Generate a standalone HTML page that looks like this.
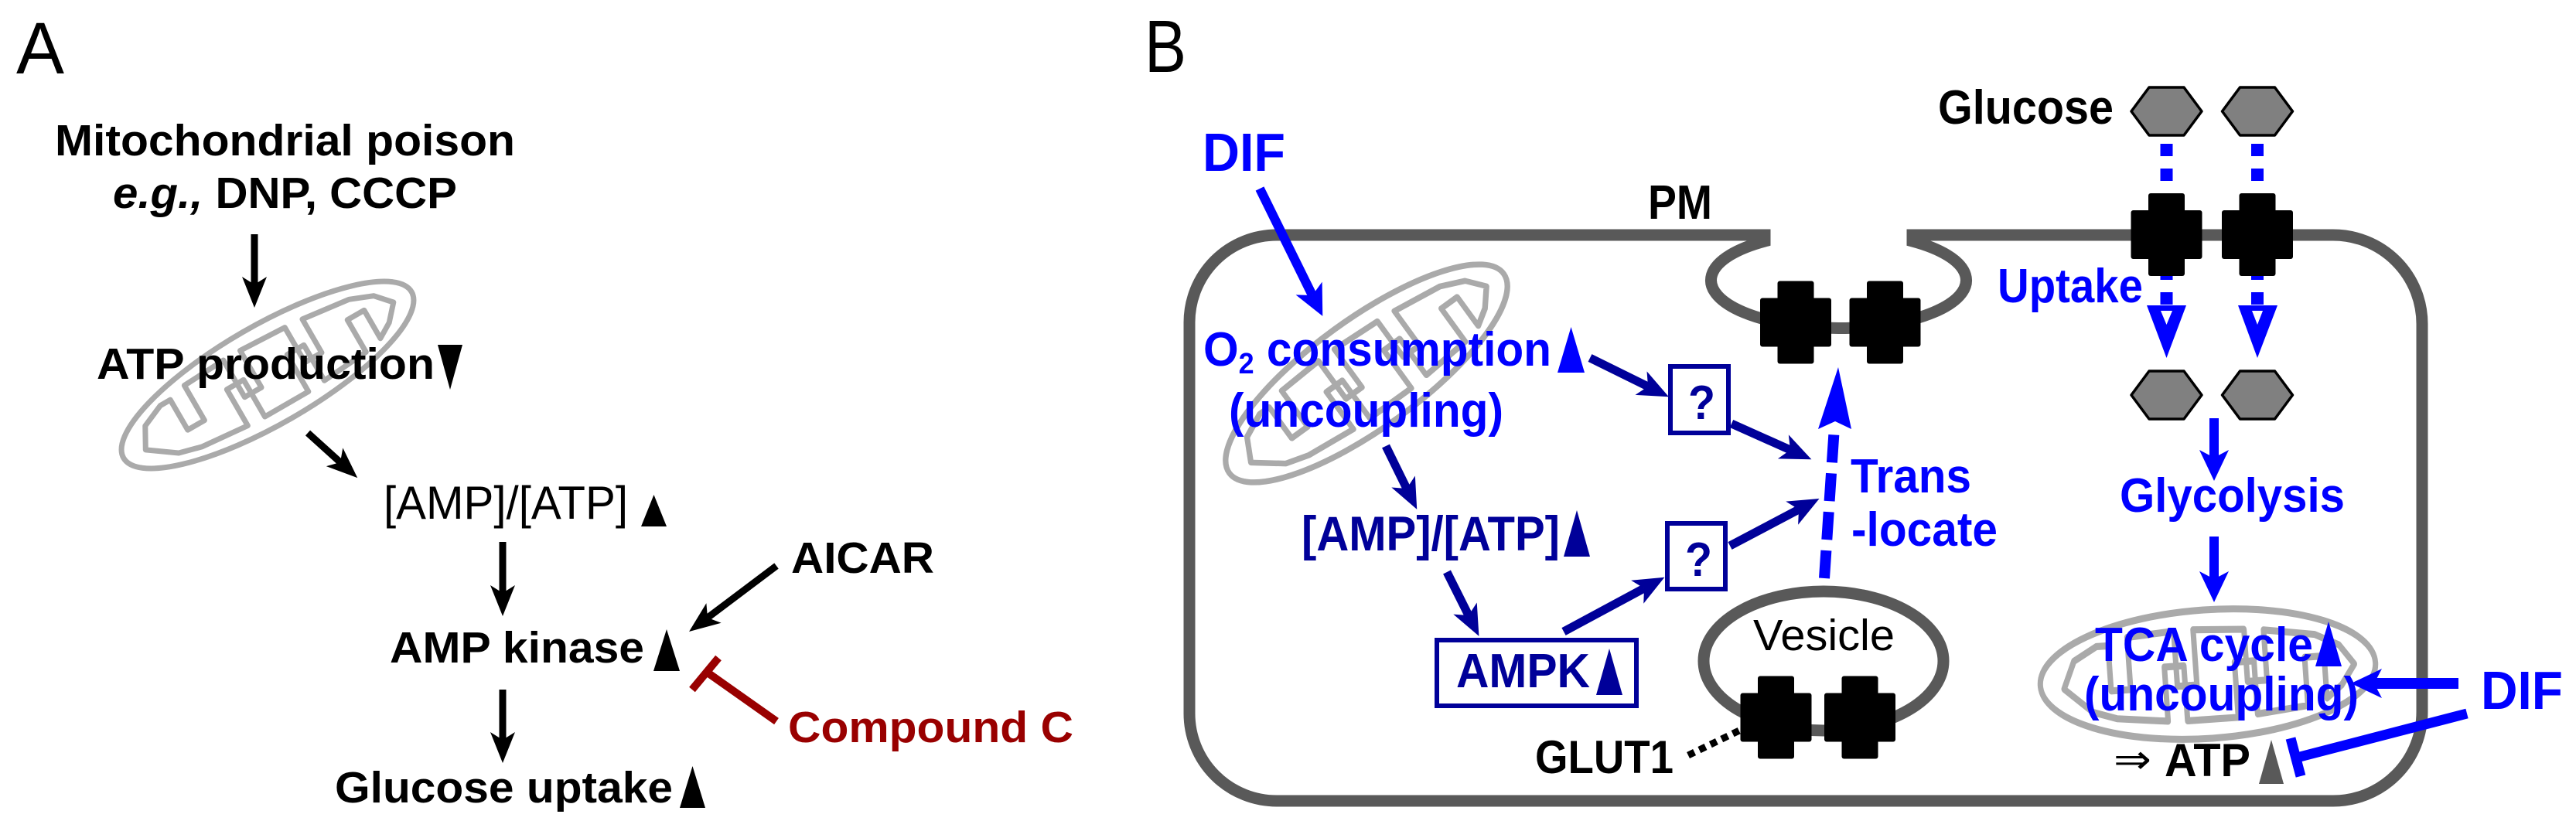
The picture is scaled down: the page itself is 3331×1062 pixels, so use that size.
<!DOCTYPE html>
<html><head><meta charset="utf-8"><style>html,body{margin:0;padding:0;background:#fff}svg{display:block}</style></head>
<body>
<svg width="3331" height="1062" viewBox="0 0 3331 1062" xmlns="http://www.w3.org/2000/svg" font-family="'Liberation Sans', sans-serif">
<defs>
<g id="mito">
<ellipse cx="0" cy="0" rx="215" ry="64" fill="none" stroke="#aaaaaa" stroke-width="7"/>
<path d="M -185 5 L -170 -22 L -140 -35 L -125 -35 L -125 10 L -100 10 L -100 -42 L -40 -45 L -40 10 L -15 10 L -15 -45 L 50 -42 L 50 10 L 75 10 L 75 -40 L 140 -32 L 170 -20 L 188 0 L 170 20 L 150 32 L 150 -10 L 125 -10 L 125 38 L 60 43 L 60 -10 L 35 -10 L 35 45 L -30 45 L -30 -10 L -55 -10 L -55 44 L -120 38 L -150 30 Z" fill="none" stroke="#aaaaaa" stroke-width="7" stroke-linejoin="round"/>
</g>
<g id="cross">
<rect x="-23.5" y="-53.5" width="47" height="107" rx="3" fill="#000"/>
<rect x="-46" y="-31.5" width="92" height="63" rx="3" fill="#000"/>
</g>
<marker id="hk" markerUnits="userSpaceOnUse" viewBox="-5 -20 50 40" refX="10" refY="0" markerWidth="50" markerHeight="40" orient="auto"><path d="M40 0 L0 -16 L10 0 L0 16 Z" fill="#000"/></marker>
<marker id="hn" markerUnits="userSpaceOnUse" viewBox="-5 -20 50 40" refX="10" refY="0" markerWidth="50" markerHeight="40" orient="auto"><path d="M40 0 L0 -17 L10 0 L0 17 Z" fill="#000099"/></marker>
<marker id="hb" markerUnits="userSpaceOnUse" viewBox="-5 -22 50 44" refX="10" refY="0" markerWidth="50" markerHeight="44" orient="auto"><path d="M40 0 L0 -19 L10 0 L0 19 Z" fill="#0000ff"/></marker>
</defs>

<!-- Panel A -->
<text x="21" y="95" font-size="95" textLength="62" lengthAdjust="spacingAndGlyphs">A</text>
<use href="#mito" transform="translate(346,485) rotate(-30)"/>
<g font-weight="bold" font-size="57" fill="#000">
<text x="71" y="201" textLength="595" lengthAdjust="spacingAndGlyphs">Mitochondrial poison</text>
<text x="146" y="269" textLength="445" lengthAdjust="spacingAndGlyphs"><tspan font-style="italic">e.g.,</tspan> DNP, CCCP</text>
<text x="125" y="490" textLength="437" lengthAdjust="spacingAndGlyphs">ATP production</text>
<text x="1023" y="741" textLength="185" lengthAdjust="spacingAndGlyphs">AICAR</text>
<text x="504" y="857" textLength="329" lengthAdjust="spacingAndGlyphs">AMP kinase</text>
<text x="1019" y="960" textLength="369" lengthAdjust="spacingAndGlyphs" fill="#990000">Compound C</text>
<text x="433" y="1038" textLength="437" lengthAdjust="spacingAndGlyphs">Glucose uptake</text>
</g>
<text x="496" y="671" font-size="60" textLength="316" lengthAdjust="spacingAndGlyphs">[AMP]/[ATP]</text>
<polygon points="566,446 598,446 582,504" fill="#000"/>
<polygon points="829,681 862,681 845.5,640" fill="#000"/>
<polygon points="845,868 879,868 862,814" fill="#000"/>
<polygon points="879,1045 912,1045 895.5,991" fill="#000"/>
<g stroke="#000" stroke-width="9" marker-end="url(#hk)">
<line x1="329" y1="303" x2="329" y2="368"/>
<line x1="398" y1="560" x2="440" y2="598"/>
<line x1="650" y1="701" x2="650" y2="767"/>
<line x1="1004" y1="732" x2="915" y2="799"/>
<line x1="650" y1="892" x2="650" y2="957"/>
</g>
<line x1="1004" y1="933" x2="912" y2="868" stroke="#990000" stroke-width="10"/>
<line x1="895" y1="892" x2="929" y2="851" stroke="#990000" stroke-width="10"/>

<!-- Panel B -->
<text x="1480" y="93" font-size="96" textLength="54" lengthAdjust="spacingAndGlyphs">B</text>
<path d="M 2282 312 L 2282 304 L 1651 304 A 113 113 0 0 0 1538 417 L 1538 923 A 113 113 0 0 0 1651 1036 L 3017 1036 A 115 115 0 0 0 3132 921 L 3132 419 A 115 115 0 0 0 3017 304 L 2473 304 L 2473 312 A 165 62 0 1 1 2282 312 Z" fill="none" stroke="#595959" stroke-width="15"/>
<use href="#mito" transform="translate(1767,483) rotate(-36) scale(1.02,1.1)"/>
<use href="#mito" transform="translate(2855,872) rotate(-4) scale(1.01,1.3)"/>
<ellipse cx="2358" cy="855" rx="155" ry="90" fill="none" stroke="#595959" stroke-width="15"/>

<!-- uptake dashes -->
<g stroke="#0000ff" stroke-width="16" stroke-dasharray="16 16">
<line x1="2801.5" y1="186" x2="2801.5" y2="420"/>
<line x1="2919" y1="186" x2="2919" y2="420"/>
</g>
<polygon points="2776,395 2801.5,463 2827,395" fill="#0000ff"/>
<polygon points="2794,402 2801.5,420 2809,402" fill="#fff"/>
<polygon points="2894,395 2919,463 2945,395" fill="#0000ff"/>
<polygon points="2912,402 2919,420 2926,402" fill="#fff"/>

<g stroke="#000" stroke-width="3.5" fill="#808080" stroke-linejoin="round">
<polygon points="2756,144 2779,113 2824,113 2847,144 2824,175 2779,175"/>
<polygon points="2873.5,144 2896.5,113 2941.5,113 2964.5,144 2941.5,175 2896.5,175"/>
<polygon points="2756,511 2779,480 2824,480 2847,511 2824,542 2779,542"/>
<polygon points="2873.5,511 2896.5,480 2941.5,480 2964.5,511 2941.5,542 2896.5,542"/>
</g>

<use href="#cross" transform="translate(2322,417)"/>
<use href="#cross" transform="translate(2437.5,417)"/>
<use href="#cross" transform="translate(2296.5,928)"/>
<use href="#cross" transform="translate(2405,928)"/>
<use href="#cross" transform="translate(2801.5,303.5)"/>
<use href="#cross" transform="translate(2919,303.5)"/>
<line x1="2183" y1="977" x2="2249" y2="945" stroke="#000" stroke-width="9" stroke-dasharray="9 7"/>

<!-- translocate dashed arrow -->
<line x1="2359" y1="748" x2="2372" y2="552" stroke="#0000ff" stroke-width="14" stroke-dasharray="36 14"/>
<polygon points="2377,475 2351,555 2373,545 2394,555" fill="#0000ff"/>

<!-- boxes -->
<rect x="1858" y="828" width="258" height="85" fill="none" stroke="#000099" stroke-width="6"/>
<rect x="2160" y="474" width="75" height="86" fill="none" stroke="#000099" stroke-width="6"/>
<rect x="2156" y="677" width="75" height="85" fill="none" stroke="#000099" stroke-width="6"/>

<g font-weight="bold" font-size="62">
<text x="1555" y="221" font-size="70" fill="#0000ff" textLength="107" lengthAdjust="spacingAndGlyphs">DIF</text>
<text x="2131" y="283" textLength="83" lengthAdjust="spacingAndGlyphs">PM</text>
<text x="2506" y="160" textLength="227" lengthAdjust="spacingAndGlyphs">Glucose</text>
<text x="1556" y="473" fill="#0000ff" textLength="450" lengthAdjust="spacingAndGlyphs">O<tspan font-size="38" dy="10">2</tspan><tspan dy="-10"> consumption</tspan></text>
<text x="1589" y="552" fill="#0000ff" textLength="355" lengthAdjust="spacingAndGlyphs">(uncoupling)</text>
<text x="1683" y="712" fill="#000099" font-size="63" textLength="334" lengthAdjust="spacingAndGlyphs">[AMP]/[ATP]</text>
<text x="1883" y="889" fill="#000099" textLength="173" lengthAdjust="spacingAndGlyphs">AMPK</text>
<text x="2183" y="542" fill="#000099" textLength="35" lengthAdjust="spacingAndGlyphs">?</text>
<text x="2179" y="745" fill="#000099" textLength="35" lengthAdjust="spacingAndGlyphs">?</text>
<text x="2393" y="637" fill="#0000ff" textLength="156" lengthAdjust="spacingAndGlyphs">Trans</text>
<text x="2394" y="706" fill="#0000ff" textLength="189" lengthAdjust="spacingAndGlyphs">-locate</text>
<text x="1985" y="1000" font-size="60" textLength="179" lengthAdjust="spacingAndGlyphs">GLUT1</text>
<text x="2583" y="391" fill="#0000ff" textLength="188" lengthAdjust="spacingAndGlyphs">Uptake</text>
<text x="2741" y="662" fill="#0000ff" textLength="291" lengthAdjust="spacingAndGlyphs">Glycolysis</text>
<text x="2709" y="855" fill="#0000ff" textLength="282" lengthAdjust="spacingAndGlyphs">TCA cycle</text>
<text x="2695" y="919" fill="#0000ff" textLength="355" lengthAdjust="spacingAndGlyphs">(uncoupling)</text>
<text x="3208" y="917" font-size="70" fill="#0000ff" textLength="106" lengthAdjust="spacingAndGlyphs">DIF</text>
<text x="2799" y="1004" font-size="60" textLength="111" lengthAdjust="spacingAndGlyphs">ATP</text>
</g>
<text x="2733" y="1000" font-size="52" textLength="49" lengthAdjust="spacingAndGlyphs">⇒</text>
<text x="2267" y="841" font-size="57" textLength="183" lengthAdjust="spacingAndGlyphs">Vesicle</text>

<polygon points="2014,482 2049,482 2031.5,423" fill="#0000ff"/>
<polygon points="2022,720 2056,720 2039,660" fill="#000099"/>
<polygon points="2064,899 2098,899 2081,839" fill="#000099"/>
<polygon points="2994,862 3028,862 3011,804" fill="#0000ff"/>
<polygon points="2921,1014 2953,1014 2937,957" fill="#595959"/>

<g stroke="#000099" stroke-width="11" marker-end="url(#hn)">
<line x1="2056" y1="463" x2="2131" y2="500"/>
<line x1="2239" y1="548" x2="2315" y2="582"/>
<line x1="1792" y1="577" x2="1819" y2="632"/>
<line x1="1871" y1="740" x2="1899" y2="796"/>
<line x1="2022" y1="817" x2="2126" y2="761"/>
<line x1="2237" y1="706" x2="2326" y2="659"/>
</g>
<g stroke="#0000ff" stroke-width="12" marker-end="url(#hb)">
<line x1="1629" y1="244" x2="1697" y2="382"/>
<line x1="2863" y1="541" x2="2863" y2="592"/>
<line x1="2863" y1="694" x2="2863" y2="749"/>
<line x1="3179" y1="884" x2="3070" y2="884" stroke-width="14"/>
</g>
<line x1="3190" y1="923" x2="2970" y2="980" stroke="#0000ff" stroke-width="13"/>
<line x1="2962" y1="955" x2="2975" y2="1004" stroke="#0000ff" stroke-width="13"/>
</svg>
</body></html>
